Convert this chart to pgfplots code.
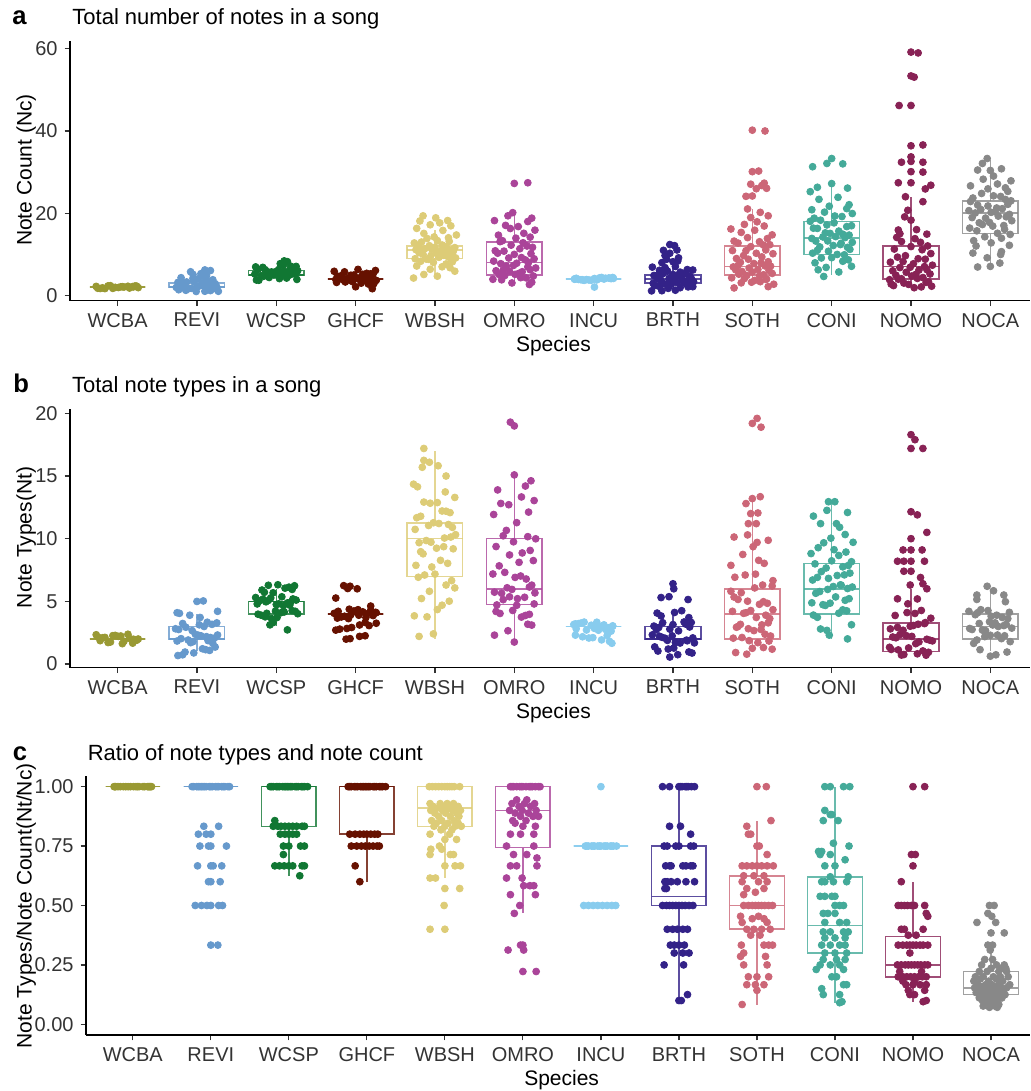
\documentclass[border=0pt]{standalone}
\usepackage{fontspec}
\setmainfont{Liberation Sans}
\usepackage{pgfplots}
\pgfplotsset{compat=1.18}
\usepgfplotslibrary{statistics}
\definecolor{cWCBA}{HTML}{999933}
\definecolor{cREVI}{HTML}{6699CC}
\definecolor{cWCSP}{HTML}{117733}
\definecolor{cGHCF}{HTML}{661100}
\definecolor{cWBSH}{HTML}{DDCC77}
\definecolor{cOMRO}{HTML}{AA4499}
\definecolor{cINCU}{HTML}{88CCEE}
\definecolor{cBRTH}{HTML}{332288}
\definecolor{cSOTH}{HTML}{CC6677}
\definecolor{cCONI}{HTML}{44AA99}
\definecolor{cNOMO}{HTML}{882255}
\definecolor{cNOCA}{HTML}{888888}
\pgfplotsset{
  myax/.style={scale only axis, xmin=0.4, xmax=12.5,
    axis x line*=bottom, axis y line*=left,
    axis line style={line width=0.6pt, black},
    xtick={1,2,...,12},
    xticklabels={WCBA,REVI,WCSP,GHCF,WBSH,OMRO,INCU,BRTH,SOTH,CONI,NOMO,NOCA},
    tick align=outside, major tick length=2.7pt,
    tick style={line width=0.6pt, black!80},
    ticklabel style={font=\fontsize{10}{12}\selectfont, text=black!80},
  }
}
\newcommand{\bx}[7]{\addplot[draw=#1, draw opacity=0.8, line width=0.75pt, solid,
  boxplot/draw direction=y,
  boxplot prepared={draw position=#2, lower whisker=#3, lower quartile=#4, median=#5,
  upper quartile=#6, upper whisker=#7, box extend=0.7, whisker extend=0}] coordinates {};}
\newcommand{\pts}[2]{\addplot[only marks, mark=*, mark size=1.72pt, color=#1] coordinates {#2};}
\begin{document}
\begin{tikzpicture}[lbl/.style={inner sep=0pt}]
\useasboundingbox (0,0) rectangle (515pt,-545.5pt);
% titles and labels
\node[lbl, anchor=base west, font=\fontsize{12.8}{14}\selectfont\bfseries] at (6pt,-12.5pt) {a};
\node[lbl, anchor=base west, font=\fontsize{11}{13}\selectfont] at (36pt,-12.5pt) {Total number of notes in a song};
\node[lbl, anchor=base west, font=\fontsize{12.8}{14}\selectfont\bfseries] at (6.5pt,-196.3pt) {b};
\node[lbl, anchor=base west, font=\fontsize{11}{13}\selectfont] at (35.8pt,-196.3pt) {Total note types in a song};
\node[lbl, anchor=base west, font=\fontsize{12.8}{14}\selectfont\bfseries] at (6.2pt,-380pt) {c};
\node[lbl, anchor=base west, font=\fontsize{11}{13}\selectfont] at (43.7pt,-380pt) {Ratio of note types and note count};
\node[lbl, rotate=90, anchor=base, font=\fontsize{10.5}{12}\selectfont] at (15.85pt,-85pt) {Note Count (Nc)};
\node[lbl, rotate=90, anchor=base, font=\fontsize{10.5}{12}\selectfont] at (15.85pt,-268.75pt) {Note Types(Nt)};
\node[lbl, rotate=90, anchor=base, font=\fontsize{10.5}{12}\selectfont] at (15.85pt,-452.9pt) {Note Types/Note Count(Nt/Nc)};
\node[lbl, anchor=base, font=\fontsize{10.5}{12}\selectfont] at (276.7pt,-175.5pt) {Species};
\node[lbl, anchor=base, font=\fontsize{10.5}{12}\selectfont] at (276.7pt,-359.2pt) {Species};
\node[lbl, anchor=base, font=\fontsize{10.5}{12}\selectfont] at (280.8pt,-542.8pt) {Species};

% ---------------- panel a
\begin{axis}[myax, at={(35pt,-150.35pt)}, anchor=south west, width=480pt, height=129.85pt,
  ymin=-1.3, ymax=61.9, ytick={0,20,40,60}, yticklabels={0,20,40,60}]
\bx{cWCBA}{1}{2}{2}{2}{2}{2}
\bx{cREVI}{2}{1}{2}{2}{3}{4}
\bx{cWCSP}{3}{4}{5}{5}{6}{7}
\bx{cGHCF}{4}{4}{4}{4}{4}{4}
\bx{cWBSH}{5}{5}{9}{11}{12}{16}
\bx{cOMRO}{6}{3}{5}{8}{13}{20}
\bx{cINCU}{7}{4}{4}{4}{4}{4}
\bx{cBRTH}{8}{1}{3}{4}{5}{8}
\bx{cSOTH}{9}{3}{5}{7}{12}{21}
\bx{cCONI}{10}{5}{10}{14}{18}{27}
\bx{cNOMO}{11}{2}{4}{7}{12}{24}
\bx{cNOCA}{12}{7}{15}{20}{23}{33}
\pts{cWCBA}{(1.13,2.21)(0.78,1.67)(1.04,2.08)(1.26,1.88)(0.91,2.35)(0.75,1.73)(1.19,2.14)(0.97,1.95)(1.22,2.29)(0.84,1.64)(1.08,2.02)(0.73,2.18)(1.15,1.78)(0.88,2.31)(1.01,1.91)(1.24,2.25)(0.81,1.83)(1.06,2.11)(0.94,1.70)(1.20,2.06)}
\pts{cREVI}{(1.77,1.37)(2.10,1.00)(1.86,1.23)(2.27,0.99)(1.99,0.95)(2.17,1.16)(1.90,1.66)(2.03,2.28)(1.74,1.93)(2.18,2.12)(1.83,1.81)(2.09,2.33)(2.25,2.04)(1.93,1.71)(2.14,2.20)(1.79,1.89)(2.00,2.09)(2.21,1.62)(1.87,3.26)(2.07,2.97)(1.76,3.15)(2.16,2.76)(1.96,3.34)(2.23,2.84)(1.82,3.01)(2.11,3.22)(1.85,2.69)(2.02,4.07)(2.20,3.80)(1.80,4.30)(2.12,3.92)(1.95,4.17)(2.08,4.65)(1.95,5.10)(2.05,5.27)(2.12,4.87)(2.17,6.03)(1.92,5.74)(2.10,6.19)}
\pts{cWCSP}{(3.13,4.21)(2.78,3.67)(3.04,4.08)(3.26,3.88)(2.91,4.35)(2.75,3.73)(3.19,5.14)(2.97,4.95)(3.22,5.29)(2.84,4.64)(3.08,5.02)(2.73,5.18)(3.15,4.78)(2.88,5.31)(3.01,4.91)(3.24,5.25)(2.81,4.83)(3.06,5.11)(2.94,5.70)(3.20,6.06)(2.77,6.37)(3.10,5.86)(2.86,6.23)(3.27,5.99)(2.99,5.75)(3.17,6.16)(2.90,5.66)(3.03,6.28)(2.74,6.93)(3.18,7.12)(2.83,6.81)(3.09,7.33)(3.25,7.04)(3.05,7.71)(3.14,8.20)(3.10,8.39)}
\pts{cGHCF}{(4.00,2.09)(4.21,1.62)(3.87,3.26)(4.07,2.97)(3.76,3.15)(4.16,2.76)(3.96,3.34)(4.23,2.84)(3.82,4.01)(4.11,4.22)(3.85,3.69)(4.02,4.07)(4.20,3.80)(3.80,4.30)(4.12,3.92)(3.95,4.17)(4.26,3.65)(3.89,4.10)(4.05,4.27)(3.75,3.87)(4.17,4.03)(3.92,3.74)(4.22,5.19)(3.98,4.96)(4.14,5.36)(3.82,4.79)(4.09,5.13)(3.77,4.68)(4.19,5.24)(3.94,4.90)(4.25,6.05)(3.86,5.72)(4.03,6.32)(3.73,5.85)}
\pts{cWBSH}{(4.73,4.21)(5.03,4.67)(4.86,5.08)(5.25,5.88)(4.94,6.35)(5.19,6.73)(4.77,7.14)(5.09,6.95)(4.82,8.29)(5.14,7.64)(4.98,8.02)(5.22,8.18)(4.92,8.78)(5.17,9.31)(4.75,8.91)(5.05,9.25)(4.89,8.83)(5.26,9.11)(4.95,9.70)(5.12,10.06)(4.80,10.37)(5.20,9.86)(5.02,10.23)(4.85,9.99)(5.11,9.75)(4.82,11.16)(5.23,10.66)(4.96,11.28)(5.16,10.93)(4.76,11.12)(5.07,10.81)(4.87,11.33)(5.21,11.04)(5.00,11.71)(4.79,12.20)(5.14,11.89)(4.93,12.09)(5.25,11.62)(5.09,12.26)(4.83,12.97)(5.18,13.15)(4.74,12.76)(5.03,13.34)(4.90,13.84)(5.17,14.01)(4.99,14.22)(5.27,14.69)(4.86,15.07)(5.10,15.80)(4.77,16.30)(5.20,16.92)(4.94,17.17)(5.06,17.65)(4.81,18.10)(4.85,19.35)(5.01,18.87)(5.16,18.20)}
\pts{cOMRO}{(6.19,2.64)(5.97,3.02)(6.22,3.18)(5.84,3.78)(6.08,4.31)(5.73,3.91)(6.15,4.25)(5.88,4.83)(6.01,5.11)(6.24,4.70)(5.81,5.06)(6.06,5.37)(5.94,5.86)(6.20,6.23)(5.77,5.99)(6.10,5.75)(5.86,6.16)(6.27,6.66)(5.99,7.28)(6.17,6.93)(5.90,7.12)(6.03,7.81)(5.74,8.33)(6.18,8.04)(5.83,7.71)(6.09,9.20)(6.25,8.89)(5.93,9.09)(6.14,8.62)(5.79,10.26)(6.00,9.97)(6.21,10.15)(5.87,10.76)(6.07,11.34)(5.76,10.84)(6.16,12.01)(5.96,12.22)(6.23,11.69)(5.82,13.07)(6.11,12.80)(5.85,13.30)(6.02,13.92)(6.20,14.17)(5.80,14.65)(6.12,15.10)(5.95,16.27)(6.26,15.87)(5.89,17.03)(6.05,16.74)(5.75,18.19)(6.17,17.96)(5.92,19.36)(6.22,18.79)(5.98,20.13)(6.00,27.24)(6.17,27.40)}
\pts{cINCU}{(7.13,3.97)(6.78,4.15)(7.04,3.76)(7.24,4.34)(6.91,3.84)(6.76,4.01)(7.19,4.22)(6.97,3.69)(7.22,4.07)(6.84,3.80)(7.08,4.30)(6.76,3.92)(7.15,4.17)(6.88,3.65)(7.01,4.10)(7.24,4.27)(6.81,3.87)(7.06,4.03)(6.94,3.74)(7.20,4.19)(6.77,3.96)(7.10,4.36)(6.86,3.79)(7.25,4.13)(7.01,2.02)}
\pts{cBRTH}{(7.73,1.09)(8.03,1.25)(7.86,1.13)(8.25,2.11)(7.94,1.70)(8.19,2.06)(7.77,2.37)(8.09,1.86)(7.82,2.23)(8.14,2.99)(7.98,2.75)(8.22,3.16)(7.92,2.66)(8.17,3.28)(7.75,2.93)(8.05,3.12)(7.89,2.81)(8.26,3.33)(7.95,4.04)(8.12,3.71)(7.80,4.20)(8.20,3.89)(8.02,4.09)(7.85,3.62)(8.11,4.26)(7.82,3.97)(8.23,4.15)(7.96,3.76)(8.16,5.34)(7.76,4.84)(8.07,5.01)(7.87,5.22)(8.21,4.69)(8.00,5.07)(7.79,4.80)(8.14,5.30)(7.93,5.92)(8.25,6.17)(8.09,5.65)(7.83,6.10)(8.18,6.27)(7.74,6.87)(8.03,7.03)(7.90,6.74)(8.00,8.19)(7.86,7.96)(8.06,8.36)(7.92,8.79)(8.07,9.13)(7.90,9.68)(7.96,10.24)(8.05,11.05)(7.88,10.95)(7.96,12.36)(8.02,12.10)}
\pts{cSOTH}{(9.20,2.12)(8.77,1.81)(9.10,3.33)(8.86,3.04)(9.27,2.71)(8.99,3.20)(9.17,3.89)(8.90,4.09)(9.03,3.62)(8.74,4.26)(9.18,3.97)(8.83,5.15)(9.09,4.76)(9.25,5.34)(8.93,4.84)(9.14,5.01)(8.79,6.22)(9.00,5.69)(9.21,6.07)(8.87,5.80)(9.07,6.30)(8.76,6.92)(9.16,7.17)(8.96,6.65)(9.23,7.10)(8.82,7.27)(9.11,7.87)(8.85,8.03)(9.02,7.74)(9.20,8.19)(8.80,8.96)(9.12,9.36)(8.95,8.79)(9.26,10.13)(8.89,9.68)(9.05,10.24)(8.75,10.90)(9.17,11.05)(8.92,10.87)(9.22,12.32)(8.98,11.85)(9.14,12.24)(8.82,12.72)(9.09,13.05)(8.77,13.20)(9.19,13.82)(8.94,14.05)(9.25,14.72)(8.86,15.32)(9.03,15.85)(8.73,16.15)(9.15,16.88)(8.90,17.27)(9.06,17.90)(9.20,19.36)(8.98,18.93)(9.10,20.20)(8.94,21.03)(8.92,24.10)(9.00,24.18)(9.05,25.95)(9.18,26.05)(9.12,26.72)(8.98,27.05)(9.15,27.30)(9.00,30.10)(9.08,30.25)(9.00,40.20)(9.16,40.00)}
\pts{cCONI}{(9.90,4.60)(9.83,6.22)(10.09,5.69)(10.25,7.07)(9.93,6.80)(10.14,8.30)(9.79,7.92)(10.00,9.17)(10.21,8.65)(9.87,9.10)(10.07,9.96)(9.76,10.27)(10.16,9.87)(9.96,10.74)(10.23,11.19)(9.82,10.96)(10.11,12.36)(9.85,11.79)(10.02,12.13)(10.20,11.68)(9.80,13.21)(10.12,12.68)(9.95,13.24)(10.26,12.90)(9.89,14.21)(10.05,14.30)(9.75,13.85)(10.17,14.07)(9.92,15.21)(10.22,14.67)(9.98,15.08)(10.14,14.88)(9.82,16.29)(10.09,15.64)(9.77,16.35)(10.19,16.73)(9.94,17.14)(10.25,16.95)(9.86,18.29)(10.03,17.64)(9.73,18.02)(10.13,19.18)(9.78,18.78)(10.04,19.31)(10.26,19.91)(9.91,20.25)(9.75,20.83)(10.19,21.11)(9.97,21.70)(10.22,22.06)(9.84,23.37)(10.08,23.86)(9.73,25.23)(9.82,26.30)(10.20,26.10)(10.00,27.20)(9.76,31.30)(9.94,32.10)(10.14,32.00)(10.00,33.30)}
\pts{cNOMO}{(11.13,2.06)(10.78,2.37)(11.04,1.86)(11.26,2.23)(10.91,2.99)(10.75,2.75)(11.19,3.16)(10.97,2.66)(11.22,3.28)(10.84,3.93)(11.08,4.12)(10.73,3.81)(11.15,4.33)(10.88,4.04)(11.01,4.71)(11.24,5.20)(10.81,4.89)(11.06,5.09)(10.94,5.62)(11.20,6.26)(10.77,5.97)(11.10,6.15)(10.86,6.76)(11.27,7.34)(10.99,6.84)(11.17,7.01)(10.90,8.22)(11.03,7.69)(10.74,8.07)(11.18,8.80)(10.83,9.30)(11.09,8.92)(11.25,10.17)(10.93,9.65)(11.14,11.10)(10.79,11.27)(11.00,11.87)(11.21,12.03)(10.88,13.10)(11.12,12.90)(10.82,14.10)(11.05,13.80)(10.86,15.00)(11.20,14.90)(10.84,15.90)(11.07,16.00)(11.00,18.30)(10.92,19.10)(10.96,20.70)(11.15,22.80)(10.93,24.00)(11.18,25.90)(11.25,26.80)(10.84,27.40)(11.00,27.40)(11.00,30.10)(11.15,30.00)(10.88,32.40)(11.00,32.60)(11.15,32.40)(11.00,33.70)(11.00,36.40)(11.15,36.60)(10.85,46.20)(11.00,46.20)(11.00,53.40)(11.04,53.10)(11.00,59.20)(11.09,59.00)}
\pts{cNOCA}{(11.84,6.90)(12.00,7.05)(12.12,7.86)(11.96,9.14)(12.13,9.95)(11.78,10.29)(12.14,10.64)(11.82,12.02)(12.24,12.18)(12.01,12.78)(11.79,13.31)(12.14,13.91)(11.93,14.25)(12.25,14.83)(12.09,15.11)(11.83,15.70)(12.18,16.06)(11.74,16.37)(12.03,16.86)(11.90,17.23)(12.17,16.99)(11.99,17.75)(12.27,18.16)(11.86,17.66)(12.10,19.28)(11.77,18.93)(12.20,19.12)(11.94,18.81)(12.06,20.33)(11.81,20.04)(12.24,19.71)(12.01,20.20)(11.88,20.89)(12.15,21.09)(11.73,20.62)(12.08,21.26)(11.84,21.97)(12.22,22.15)(11.97,21.76)(12.19,23.34)(11.75,22.84)(12.26,23.01)(12.04,24.22)(11.78,23.69)(12.13,24.07)(11.89,24.80)(12.22,25.30)(11.97,25.92)(12.19,26.17)(11.75,26.65)(12.09,27.10)(11.91,28.27)(12.26,27.87)(12.04,29.03)(11.84,30.50)(12.00,30.40)(12.14,30.80)(11.90,32.10)(11.96,33.30)}
\end{axis}

% ---------------- panel b
\begin{axis}[myax, at={(35pt,-333.85pt)}, anchor=south west, width=480pt, height=129.35pt,
  ymin=-0.3, ymax=20.35, ytick={0,5,10,15,20}, yticklabels={0,5,10,15,20}]
\bx{cWCBA}{1}{2}{2}{2}{2}{2}
\bx{cREVI}{2}{1}{2}{2}{3}{4}
\bx{cWCSP}{3}{3}{4}{5}{5}{6}
\bx{cGHCF}{4}{4}{4}{4}{4}{4}
\bx{cWBSH}{5}{2}{7}{10}{11.25}{17}
\bx{cOMRO}{6}{2}{4.75}{6}{10}{15}
\bx{cINCU}{7}{3}{3}{3}{3}{3}
\bx{cBRTH}{8}{1}{2}{2}{3}{4}
\bx{cSOTH}{9}{1}{2}{4}{6}{13}
\bx{cCONI}{10}{2}{4}{6}{8}{13}
\bx{cNOMO}{11}{1}{1}{2}{3.25}{6}
\bx{cNOCA}{12}{1}{2}{3}{4}{6}
\pts{cWCBA}{(1.13,2.37)(0.78,1.86)(1.04,2.23)(1.26,1.99)(0.91,1.75)(0.75,2.16)(1.19,1.66)(0.97,2.28)(1.22,1.93)(0.84,2.12)(1.08,1.81)(0.73,2.33)(1.15,2.04)(0.88,1.71)(1.01,2.20)(1.24,1.89)(0.81,2.09)(1.06,1.62)(0.94,2.26)(1.20,1.97)}
\pts{cREVI}{(2.07,1.21)(1.76,0.67)(2.16,1.08)(1.96,0.88)(2.23,1.35)(1.82,0.73)(2.11,1.14)(1.85,0.95)(2.02,2.29)(2.20,1.64)(1.80,2.02)(2.12,2.18)(1.95,1.78)(2.26,2.31)(1.89,1.91)(2.05,2.25)(1.75,1.83)(2.17,2.11)(1.92,1.70)(2.22,2.06)(1.98,2.37)(2.14,1.86)(1.82,3.23)(2.09,2.99)(1.77,2.75)(2.19,3.16)(1.94,2.66)(2.25,3.28)(1.86,2.93)(2.03,3.12)(1.73,2.81)(2.13,3.33)(1.78,4.04)(2.04,3.71)(2.26,4.20)(1.91,3.89)(1.75,4.09)(2.00,4.99)(2.08,5.03)}
\pts{cWCSP}{(2.92,3.12)(3.14,2.72)(2.96,3.30)(2.88,4.04)(3.01,3.71)(3.24,4.20)(2.81,3.89)(3.06,4.09)(2.94,3.62)(3.20,4.26)(2.77,3.97)(3.10,4.15)(2.86,3.76)(3.27,4.01)(2.99,4.22)(3.17,4.69)(2.90,5.07)(3.03,4.80)(2.74,5.30)(3.18,4.92)(2.83,5.17)(3.09,4.65)(3.25,5.10)(2.93,5.27)(3.14,4.87)(2.79,5.03)(3.00,4.74)(3.21,5.19)(2.87,4.96)(3.07,5.36)(2.76,4.79)(3.16,6.13)(2.96,5.68)(3.23,6.24)(2.82,5.90)(3.11,6.05)(2.85,5.72)(3.02,6.32)(3.20,5.95)(2.90,6.28)}
\pts{cGHCF}{(3.88,1.98)(4.05,2.20)(3.93,2.02)(4.12,2.25)(3.80,2.78)(4.12,3.31)(3.95,2.91)(4.26,3.25)(3.89,2.83)(4.05,3.11)(3.75,2.70)(4.17,3.06)(3.92,4.37)(4.22,3.86)(3.98,4.23)(4.14,3.99)(3.82,3.75)(4.09,4.16)(3.77,3.66)(4.19,4.28)(3.94,3.93)(4.25,4.12)(3.86,3.81)(4.03,4.33)(3.73,4.04)(4.13,3.71)(3.78,4.20)(4.04,3.89)(4.26,4.09)(3.91,3.62)(3.75,5.26)(4.19,4.62)(3.85,6.25)(3.93,6.20)(4.02,6.00)(3.90,6.02)}
\pts{cWBSH}{(4.80,2.20)(4.98,2.40)(4.90,3.76)(5.03,4.34)(4.74,3.84)(5.18,5.01)(4.83,5.22)(5.09,4.69)(5.25,6.07)(4.93,5.80)(5.14,6.30)(4.79,6.92)(5.00,7.17)(5.21,6.65)(4.87,7.10)(5.07,8.27)(4.76,7.87)(5.16,8.03)(4.96,7.74)(5.23,9.19)(4.82,8.96)(5.11,9.36)(4.85,8.79)(5.02,9.24)(5.20,10.13)(4.80,9.68)(5.12,10.05)(4.95,9.72)(5.26,10.32)(4.89,9.85)(5.05,11.21)(4.75,10.74)(5.17,11.13)(4.92,11.05)(5.22,10.90)(4.98,11.27)(5.14,12.19)(4.82,11.79)(5.09,12.21)(4.77,11.67)(5.19,12.08)(4.94,12.83)(5.25,13.29)(4.86,12.92)(5.03,12.88)(4.73,14.35)(5.13,13.73)(4.78,14.14)(5.14,15.00)(4.84,15.70)(4.86,16.25)(4.93,16.10)(5.04,15.82)(4.86,17.20)}
\pts{cOMRO}{(6.00,1.75)(5.75,2.30)(6.17,3.17)(5.92,2.65)(6.22,3.10)(5.98,4.27)(6.14,3.87)(5.82,4.03)(6.09,3.74)(5.77,4.19)(6.19,3.96)(5.94,5.36)(6.25,4.79)(5.86,5.13)(6.03,4.68)(6.13,5.32)(5.78,4.71)(6.04,5.21)(6.26,5.67)(5.91,6.08)(5.75,5.73)(6.19,6.14)(5.97,5.95)(6.22,6.29)(5.84,5.64)(6.08,7.02)(5.73,7.18)(6.15,6.78)(5.88,7.31)(6.01,6.91)(6.24,8.25)(5.81,7.83)(6.06,8.11)(5.94,8.70)(6.20,9.06)(5.77,9.37)(6.10,8.86)(5.86,10.23)(6.27,9.99)(5.99,9.75)(6.17,10.16)(5.90,10.66)(6.03,11.28)(5.74,11.93)(6.18,12.12)(5.83,12.81)(6.09,13.33)(6.25,13.04)(5.93,12.71)(6.14,14.20)(5.79,13.89)(6.00,15.09)(6.21,14.62)(5.95,19.30)(6.00,19.00)}
\pts{cINCU}{(7.13,3.12)(6.78,2.81)(7.04,3.33)(7.24,3.04)(6.91,2.71)(6.77,3.20)(7.19,2.89)(6.97,3.09)(7.22,2.62)(6.84,3.26)(7.08,2.97)(6.75,3.15)(7.15,2.76)(6.88,3.34)(7.01,2.84)(7.24,3.01)(6.81,3.22)(7.06,2.69)(6.94,2.07)(7.20,1.80)(6.77,2.30)(7.10,1.92)(6.86,2.17)(7.23,1.65)(6.99,2.10)(7.17,2.27)}
\pts{cBRTH}{(8.01,1.27)(8.24,0.87)(7.81,1.03)(8.06,0.74)(7.94,1.19)(8.20,0.96)(7.77,1.36)(7.96,0.55)(7.86,2.13)(8.27,1.68)(7.99,2.24)(8.17,1.90)(7.90,2.05)(8.03,1.72)(7.74,2.32)(8.18,1.85)(7.83,2.21)(8.09,1.67)(8.25,2.08)(7.93,1.88)(8.14,3.35)(7.79,2.73)(8.00,3.14)(8.21,2.95)(7.87,3.29)(8.07,2.64)(7.76,3.02)(8.16,3.18)(7.96,2.78)(8.23,3.31)(7.82,2.91)(8.11,4.25)(7.85,3.83)(8.02,4.11)(8.20,3.70)(7.80,4.06)(7.85,5.30)(7.95,5.37)(8.19,5.14)(8.00,6.40)(8.01,6.00)}
\pts{cSOTH}{(9.25,1.18)(8.93,0.78)(9.14,1.31)(8.79,0.91)(9.00,1.25)(9.21,1.83)(8.87,2.11)(9.07,1.70)(8.76,2.06)(9.16,2.37)(8.96,1.86)(9.23,2.23)(8.82,2.99)(9.11,2.75)(8.85,3.16)(9.02,2.66)(9.20,3.28)(8.80,2.93)(9.12,3.12)(8.95,2.81)(9.26,4.33)(8.89,4.04)(9.05,3.71)(8.75,4.20)(9.17,3.89)(8.92,4.09)(9.22,3.62)(8.98,4.26)(9.14,4.97)(8.82,5.15)(9.09,4.76)(8.77,5.34)(9.19,4.84)(8.94,5.01)(9.25,6.22)(8.86,5.69)(9.03,6.07)(8.73,5.80)(9.13,6.30)(8.78,6.92)(9.04,7.17)(9.26,6.65)(8.91,7.10)(9.08,8.27)(8.73,7.87)(9.15,8.03)(8.88,8.74)(9.01,9.36)(9.06,9.70)(8.94,10.30)(9.20,9.87)(8.77,10.13)(8.95,11.20)(9.05,11.20)(8.98,12.00)(9.07,12.05)(9.10,13.35)(9.00,13.20)(8.92,12.80)(9.06,19.60)(9.00,19.20)(9.11,18.90)}
\pts{cCONI}{(9.97,2.30)(10.20,2.00)(9.86,2.79)(10.25,3.13)(9.94,2.68)(10.19,4.24)(9.77,3.90)(10.09,4.05)(9.82,3.72)(10.14,4.32)(9.98,4.85)(10.22,5.21)(9.92,4.67)(10.17,5.08)(9.75,4.88)(10.05,5.35)(9.89,4.73)(10.26,6.14)(9.95,5.95)(10.12,6.29)(9.80,5.64)(10.20,6.02)(10.02,6.18)(9.85,5.78)(10.11,6.31)(9.82,6.91)(10.23,7.25)(9.96,6.83)(10.16,7.11)(9.76,6.70)(10.07,7.06)(9.87,7.37)(10.21,7.86)(10.00,8.23)(9.79,7.99)(10.14,7.75)(9.93,7.66)(10.25,8.16)(10.09,8.66)(9.83,9.28)(10.18,8.93)(9.74,8.81)(10.03,9.12)(9.90,9.67)(10.17,10.33)(9.99,10.04)(10.27,9.71)(9.86,11.20)(10.06,11.20)(10.10,10.91)(9.77,11.80)(10.20,12.09)(9.94,12.26)(9.96,12.95)(10.04,12.95)}
\pts{cNOMO}{(10.91,0.75)(10.75,1.16)(11.19,0.70)(10.97,1.28)(11.22,0.93)(10.84,1.12)(11.08,0.81)(10.73,1.33)(11.15,1.04)(10.88,0.71)(11.01,2.20)(11.24,1.89)(10.81,2.09)(11.06,1.62)(10.94,2.26)(11.20,1.97)(10.77,2.15)(11.10,1.76)(10.86,2.34)(11.27,1.84)(10.99,3.01)(11.17,3.22)(10.90,2.69)(11.03,3.07)(10.74,2.80)(11.18,3.30)(10.83,2.92)(11.09,3.17)(11.25,3.65)(10.95,4.10)(11.13,4.27)(10.80,3.87)(11.05,4.03)(10.83,5.20)(11.08,5.19)(10.96,4.80)(11.15,6.40)(11.20,6.00)(10.99,6.30)(10.91,7.40)(11.00,7.40)(11.12,6.90)(10.83,8.20)(10.91,8.20)(11.00,8.20)(11.17,8.20)(10.90,9.10)(11.00,9.10)(11.14,9.10)(11.20,10.50)(11.00,10.00)(11.00,12.15)(11.08,11.90)(11.00,17.20)(11.15,17.20)(11.00,18.30)(11.05,17.90)}
\pts{cNOCA}{(12.00,0.62)(12.07,0.73)(11.87,1.14)(12.21,0.95)(12.00,2.29)(11.79,1.64)(12.14,2.02)(11.93,2.18)(12.25,1.78)(12.09,2.31)(11.83,1.91)(12.18,2.25)(11.74,2.83)(12.03,3.11)(11.90,2.70)(12.17,3.06)(11.99,3.37)(12.27,2.86)(11.86,3.23)(12.10,2.99)(11.77,2.75)(12.20,3.16)(11.94,2.66)(12.06,3.28)(11.81,3.93)(12.24,4.12)(12.01,3.81)(11.88,4.33)(12.15,3.71)(11.73,4.20)(12.08,3.89)(11.84,4.09)(12.22,3.62)(11.97,4.26)(12.19,4.97)(11.83,5.15)(11.83,5.50)(12.17,5.50)(11.96,6.20)(12.04,5.84)}
\end{axis}

% ---------------- panel c
\begin{axis}[myax, at={(43pt,-517.5pt)}, anchor=south west, width=472pt, height=129.65pt,
  ymin=-0.045, ymax=1.046, ytick={0,0.25,0.5,0.75,1}, yticklabels={0.00,0.25,0.50,0.75,1.00}]
\bx{cWCBA}{1}{1}{1}{1}{1}{1}
\bx{cREVI}{2}{1}{1}{1}{1}{1}
\bx{cWCSP}{3}{0.625}{0.8333}{1}{1}{1}
\bx{cGHCF}{4}{0.6}{0.8}{1}{1}{1}
\bx{cWBSH}{5}{0.6154}{0.8333}{0.9091}{1}{1}
\bx{cOMRO}{6}{0.4667}{0.7436}{0.9}{1}{1}
\bx{cINCU}{7}{0.75}{0.75}{0.75}{0.75}{0.75}
\bx{cBRTH}{8}{0.1}{0.5}{0.5385}{0.75}{1}
\bx{cSOTH}{9}{0.0833}{0.4}{0.5}{0.625}{0.8571}
\bx{cCONI}{10}{0.0909}{0.3}{0.4167}{0.6207}{1}
\bx{cNOMO}{11}{0.0952}{0.2}{0.25}{0.3704}{0.6}
\bx{cNOCA}{12}{0.0714}{0.125}{0.1538}{0.2222}{0.3333}
\pts{cWCBA}{(1.13,1)(0.78,1)(1.04,1)(1.24,1)(0.91,1)(0.77,1)(1.19,1)(0.97,1)(1.22,1)(0.84,1)(1.08,1)(0.76,1)(1.15,1)(0.88,1)(1.01,1)(1.22,1)(0.81,1)(1.06,1)(0.94,1)(1.20,1)}
\pts{cREVI}{(1.78,1)(1.82,1)(1.86,1)(1.90,1)(1.94,1)(1.98,1)(2.02,1)(2.06,1)(2.10,1)(2.14,1)(2.18,1)(2.22,1)(1.76,1)(1.84,1)(1.92,1)(2.00,1)(2.08,1)(2.16,1)(2.24,1)(1.88,1)(1.91,0.8333)(2.10,0.8333)(1.84,0.8)(1.94,0.8)(2.00,0.8)(1.86,0.75)(1.97,0.75)(2.00,0.75)(2.20,0.75)(1.83,0.6667)(2.00,0.6667)(2.03,0.6667)(2.14,0.6667)(1.97,0.6)(2.00,0.6)(2.12,0.6)(1.80,0.5)(1.88,0.5)(1.95,0.5)(2.00,0.5)(2.10,0.5)(2.15,0.5)(2.00,0.3333)(2.09,0.3333)}
\pts{cWCSP}{(2.76,1)(2.80,1)(2.84,1)(2.88,1)(2.92,1)(2.96,1)(3.00,1)(3.04,1)(3.08,1)(3.12,1)(3.16,1)(3.20,1)(3.24,1)(2.78,1)(2.86,1)(2.94,1)(3.02,1)(3.10,1)(3.18,1)(2.98,1)(2.82,0.8571)(2.80,0.8333)(2.86,0.8333)(2.90,0.8333)(2.95,0.8333)(3.00,0.8333)(3.05,0.8333)(3.10,0.8333)(3.17,0.8333)(3.20,0.8333)(2.89,0.8)(2.95,0.8)(3.00,0.8)(3.05,0.8)(3.10,0.8)(2.93,0.75)(3.00,0.75)(3.15,0.75)(3.20,0.75)(2.93,0.7143)(2.82,0.6667)(2.88,0.6667)(2.94,0.6667)(3.00,0.6667)(3.05,0.6667)(3.17,0.6667)(3.20,0.6667)(3.14,0.625)}
\pts{cGHCF}{(3.76,1)(3.80,1)(3.84,1)(3.88,1)(3.92,1)(3.96,1)(4.00,1)(4.04,1)(4.08,1)(4.12,1)(4.16,1)(4.20,1)(4.24,1)(3.78,1)(3.86,1)(3.94,1)(4.02,1)(4.10,1)(4.18,1)(3.98,1)(3.78,0.8)(3.85,0.8)(3.91,0.8)(3.96,0.8)(4.00,0.8)(4.05,0.8)(4.10,0.8)(4.14,0.8)(3.80,0.75)(3.87,0.75)(3.93,0.75)(3.98,0.75)(4.03,0.75)(4.08,0.75)(4.13,0.75)(4.16,0.75)(3.85,0.6667)(3.91,0.6)}
\pts{cWBSH}{(4.80,1)(4.84,1)(4.88,1)(4.92,1)(4.96,1)(5.00,1)(5.03,1)(5.06,1)(5.09,1)(5.12,1)(5.19,1)(4.81,0.9286)(4.94,0.9286)(5.03,0.9286)(5.11,0.9286)(4.85,0.9167)(4.99,0.9167)(5.08,0.9167)(5.17,0.9167)(4.90,0.9091)(5.05,0.9091)(5.14,0.9091)(4.82,0.9)(4.97,0.9)(5.10,0.9)(5.20,0.9)(4.87,0.8889)(5.01,0.8889)(5.15,0.8889)(4.92,0.875)(5.07,0.875)(5.18,0.875)(4.83,0.8571)(4.96,0.8571)(5.12,0.8571)(4.89,0.8462)(5.04,0.8462)(5.17,0.8462)(4.86,0.8333)(5.00,0.8333)(5.13,0.8333)(5.21,0.8333)(4.95,0.8182)(5.09,0.8182)(4.81,0.8)(5.06,0.8)(5.00,0.7778)(5.15,0.7778)(4.93,0.75)(4.82,0.7368)(4.96,0.7368)(4.81,0.7143)(5.07,0.7143)(5.11,0.7143)(5.00,0.6667)(5.13,0.6667)(5.20,0.6667)(4.81,0.6154)(4.88,0.6154)(5.00,0.5714)(5.19,0.5714)(4.99,0.5)(4.81,0.4)(5.00,0.4)}
\pts{cOMRO}{(5.84,1)(5.88,1)(5.92,1)(5.96,1)(6.00,1)(6.04,1)(6.08,1)(6.12,1)(6.16,1)(6.20,1)(5.86,1)(5.98,1)(6.10,1)(6.22,1)(5.92,0.9444)(6.05,0.9444)(5.86,0.9286)(6.02,0.9286)(6.15,0.9286)(5.95,0.9167)(6.10,0.9167)(5.83,0.9)(5.99,0.9)(6.17,0.9)(5.90,0.8889)(6.07,0.8889)(5.97,0.875)(6.13,0.875)(6.20,0.875)(5.87,0.8571)(6.04,0.8571)(5.90,0.8462)(6.00,0.8333)(6.16,0.8333)(5.84,0.8)(5.97,0.8)(6.14,0.8)(5.79,0.75)(6.14,0.75)(5.88,0.7143)(6.05,0.7143)(6.18,0.7)(5.84,0.6667)(5.92,0.6667)(6.18,0.6667)(5.79,0.6154)(5.99,0.6154)(6.01,0.5833)(6.09,0.5833)(6.14,0.5833)(5.84,0.5455)(6.16,0.5455)(5.96,0.5)(5.89,0.4667)(5.97,0.3333)(6.00,0.3333)(5.81,0.3125)(6.01,0.3125)(6.00,0.2222)(6.17,0.2222)}
\pts{cINCU}{(7.00,1)(6.80,0.75)(6.84,0.75)(6.88,0.75)(6.92,0.75)(6.96,0.75)(7.00,0.75)(7.04,0.75)(7.08,0.75)(7.12,0.75)(7.16,0.75)(7.20,0.75)(6.82,0.75)(6.90,0.75)(6.98,0.75)(7.06,0.75)(7.14,0.75)(6.78,0.5)(6.84,0.5)(6.90,0.5)(6.96,0.5)(7.02,0.5)(7.08,0.5)(7.14,0.5)(7.19,0.5)}
\pts{cBRTH}{(7.79,1)(7.88,1)(8.00,1)(8.04,1)(8.08,1)(8.12,1)(8.16,1)(8.20,1)(8.02,1)(8.10,1)(7.88,0.8333)(8.02,0.8333)(8.15,0.8)(7.81,0.75)(7.85,0.75)(7.96,0.75)(8.00,0.75)(8.15,0.75)(8.19,0.75)(7.83,0.6667)(7.88,0.6667)(7.90,0.6667)(8.05,0.6667)(8.09,0.6667)(8.15,0.6667)(8.18,0.6667)(7.82,0.6)(7.85,0.6)(7.90,0.6)(7.98,0.6)(8.09,0.6)(8.20,0.6)(7.82,0.5714)(7.84,0.5714)(7.79,0.5)(7.84,0.5)(7.88,0.5)(7.92,0.5)(7.96,0.5)(8.00,0.5)(8.04,0.5)(8.08,0.5)(8.13,0.5)(8.18,0.5)(7.85,0.4)(7.92,0.4)(7.98,0.4)(8.05,0.4)(8.11,0.4)(7.89,0.3333)(7.94,0.3333)(8.00,0.3333)(8.07,0.3333)(7.94,0.3)(8.05,0.3)(8.13,0.3)(7.81,0.25)(8.06,0.25)(8.00,0.1)(8.03,0.1)(8.11,0.125)}
\pts{cSOTH}{(9.00,1)(9.12,1)(9.18,0.8571)(8.87,0.8333)(8.89,0.8)(8.92,0.8)(9.00,0.75)(9.03,0.75)(9.13,0.7143)(8.81,0.6667)(8.87,0.6667)(8.94,0.6667)(9.00,0.6667)(9.06,0.6667)(9.13,0.6667)(9.21,0.6667)(8.83,0.625)(8.96,0.625)(9.09,0.625)(8.81,0.6)(9.02,0.6)(9.13,0.6)(8.87,0.5714)(9.09,0.5714)(8.98,0.5556)(8.83,0.5455)(8.83,0.5)(8.89,0.5)(8.94,0.5)(8.98,0.5)(9.02,0.5)(9.06,0.5)(9.10,0.5)(9.15,0.5)(9.20,0.5)(8.79,0.4545)(9.02,0.4545)(8.94,0.4444)(9.09,0.4444)(8.81,0.4286)(9.13,0.4286)(8.87,0.4)(8.96,0.4)(9.06,0.4)(9.17,0.4)(8.92,0.375)(9.04,0.375)(8.80,0.3333)(9.09,0.3333)(9.15,0.3333)(9.20,0.3333)(8.79,0.2857)(8.83,0.3)(9.11,0.2857)(8.83,0.25)(9.13,0.25)(8.89,0.2)(9.00,0.2)(9.15,0.2)(8.87,0.1667)(8.98,0.1667)(9.09,0.1667)(9.00,0.1429)(8.81,0.0833)}
\pts{cCONI}{(9.87,1)(9.94,1)(10.11,1)(10.19,1)(9.87,0.9)(9.94,0.8824)(9.96,0.8824)(9.85,0.8571)(10.04,0.8571)(9.98,0.7619)(10.18,0.75)(9.79,0.7273)(9.83,0.7273)(9.81,0.7143)(9.94,0.7143)(10.13,0.6923)(9.87,0.6667)(10.00,0.6667)(9.94,0.6207)(10.17,0.6207)(9.83,0.6)(9.87,0.6)(9.98,0.6)(10.15,0.6)(9.81,0.5385)(9.87,0.5385)(9.96,0.5385)(10.00,0.5385)(10.00,0.5)(10.06,0.5)(10.11,0.5)(9.85,0.4667)(9.91,0.4667)(10.00,0.4667)(9.87,0.4286)(10.06,0.4286)(10.15,0.4286)(9.85,0.3889)(9.94,0.3889)(10.11,0.3889)(10.17,0.3889)(9.87,0.3636)(10.00,0.3636)(10.13,0.3636)(9.83,0.3333)(9.94,0.3333)(10.06,0.3333)(10.13,0.3333)(9.87,0.3)(10.00,0.3)(10.15,0.3)(9.85,0.2727)(10.02,0.2727)(10.13,0.2727)(9.81,0.25)(9.94,0.25)(10.06,0.25)(9.76,0.2308)(10.11,0.2308)(9.96,0.2)(10.02,0.2)(10.11,0.1667)(10.15,0.1667)(9.83,0.15)(9.85,0.125)(10.06,0.125)(10.06,0.0909)(10.09,0.0952)}
\pts{cNOMO}{(11.00,1)(11.15,1)(10.98,0.7143)(11.03,0.7143)(11.00,0.6667)(10.85,0.6)(10.81,0.5)(10.85,0.5)(10.89,0.5)(10.93,0.5)(10.98,0.5)(11.02,0.5)(11.15,0.5)(11.17,0.4667)(11.19,0.4545)(10.85,0.4)(10.89,0.4)(11.13,0.4)(10.94,0.375)(11.04,0.375)(10.81,0.3333)(10.87,0.3333)(10.92,0.3333)(10.96,0.3333)(11.00,0.3333)(11.04,0.3333)(11.09,0.3333)(11.13,0.3333)(11.19,0.3333)(10.96,0.3)(10.80,0.25)(10.85,0.25)(10.90,0.25)(10.94,0.25)(10.98,0.25)(11.02,0.25)(11.06,0.25)(11.10,0.25)(11.15,0.25)(11.19,0.25)(10.83,0.2222)(11.11,0.2222)(10.81,0.2)(10.87,0.2)(10.92,0.2)(10.97,0.2)(11.02,0.2)(11.07,0.2)(11.12,0.2)(11.17,0.2)(10.87,0.1818)(11.02,0.1818)(10.91,0.1667)(11.00,0.1667)(11.09,0.1667)(11.17,0.1667)(10.94,0.1429)(11.15,0.1429)(10.96,0.125)(11.02,0.125)(11.13,0.0952)(11.17,0.1)}
\pts{cNOCA}{(11.98,0.5)(12.04,0.5)(11.96,0.4667)(12.01,0.4545)(11.82,0.4286)(12.06,0.4286)(12.00,0.3846)(12.17,0.3846)(11.96,0.3333)(12.02,0.3333)(11.99,0.3125)(11.92,0.2727)(12.02,0.2727)(11.88,0.25)(12.07,0.25)(12.17,0.25)(12.00,0.2353)(12.13,0.2353)(12.19,0.2353)(11.85,0.2222)(11.95,0.2222)(12.10,0.2222)(12.20,0.2222)(11.80,0.2)(11.90,0.2)(12.03,0.2)(12.12,0.2)(12.22,0.2)(11.86,0.1905)(12.07,0.1905)(11.78,0.1818)(11.97,0.1818)(12.15,0.1818)(11.83,0.1667)(11.93,0.1667)(12.01,0.1667)(12.10,0.1667)(12.24,0.1667)(11.88,0.1579)(12.05,0.1579)(11.79,0.1538)(11.98,0.1538)(12.13,0.1538)(12.20,0.1538)(11.84,0.1429)(11.92,0.1429)(12.04,0.1429)(12.16,0.1429)(11.81,0.1333)(12.00,0.1333)(12.09,0.1333)(11.87,0.125)(11.95,0.125)(12.11,0.125)(12.18,0.125)(11.91,0.1176)(12.06,0.1176)(11.85,0.1111)(12.01,0.1111)(12.14,0.1111)(11.89,0.1)(11.97,0.1)(12.08,0.1)(11.93,0.0909)(12.03,0.0909)(11.96,0.0833)(12.10,0.0833)(11.90,0.0769)(12.05,0.0769)(11.98,0.0714)(12.08,0.0714)}
\end{axis}
\end{tikzpicture}
\end{document}
